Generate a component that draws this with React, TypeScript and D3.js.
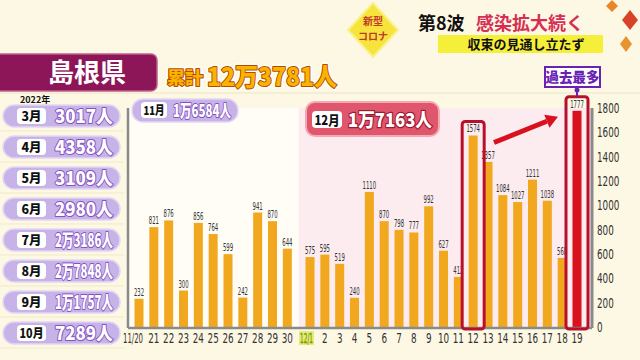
import React, { useLayoutEffect, useRef, useState } from 'react';
import * as d3 from 'd3';

const novDays = ['11/20', '21', '22', '23', '24', '25', '26', '27', '28', '29', '30'];
const novValues = [232, 821, 876, 300, 856, 764, 599, 242, 941, 870, 644];
const decDays = ['12/1', '2', '3', '4', '5', '6', '7', '8', '9', '10', '11', '12', '13', '14', '15', '16', '17', '18', '19'];
const decValues = [575, 595, 519, 240, 1110, 870, 798, 777, 992, 627, 412, 1574, 1357, 1084, 1027, 1211, 1038, 568, 1777];
const monthLabels = ['3月', '4月', '5月', '6月', '7月', '8月', '9月', '10月'];
const monthTotals = ['3017人', '4358人', '3109人', '2980人', '2万3186人', '2万7848人', '1万1757人', '7289人'];
const yTicks = [0, 200, 400, 600, 800, 1000, 1200, 1400, 1600, 1800];
const highlightDays = ['12', '19'];
const recordDay = '19';

const JP = '"Noto Sans CJK JP", "Noto Sans", sans-serif';
const NARROW = '"DejaVu Sans Condensed", "Liberation Sans Narrow", sans-serif';

type Bar = { day: string; value: number; month: 'nov' | 'dec'; pos: number };

const bars: Bar[] = [
  ...novDays.map((d, i) => ({ day: d, value: novValues[i], month: 'nov' as const, pos: i })),
  ...decDays.map((d, i) => ({ day: d, value: decValues[i], month: 'dec' as const, pos: novDays.length + i + 0.53 })),
];

// Text squeezed horizontally (via transform) to a target width.
function FitText(props: any) {
  const { x, y, width, anchor = 'start', children, ...rest } = props;
  const ref = useRef<SVGTextElement>(null);
  const [s, setS] = useState(1);
  useLayoutEffect(() => {
    if (ref.current) {
      const n = ref.current.getComputedTextLength();
      if (n > 0) setS(Math.min(width / n, 1.3));
    }
  }, [width, children]);
  return (
    <g transform={`translate(${x},${y}) scale(${s},1)`}>
      <text ref={ref} x={0} y={0} textAnchor={anchor} {...rest}>{children}</text>
    </g>
  );
}

export default function App() {
  const W = 640, H = 360;
  const x = d3.scaleLinear().domain([0, bars[bars.length - 1].pos]).range([139, 577]);
  const y = d3.scaleLinear().domain([0, 1800]).range([327, 108]);
  const barW = 9;
  const axisL = x(0) - 11;
  const axisR = x(bars[bars.length - 1].pos) + 15;
  const decStart = (x(novDays.length - 1) + x(novDays.length + 0.53)) / 2;

  const decBars = bars.filter(b => b.month === 'dec');
  const hl = decBars.filter(b => highlightDays.includes(b.day));
  const b12 = decBars.find(b => b.day === '12')!;
  const b13 = decBars.find(b => b.day === '13')!;
  const b19 = decBars.find(b => b.day === recordDay)!;

  const ax0 = x(b13.pos) + 6, ay0 = y(b12.value) + 7;
  const ax1 = x(b19.pos) - 19, ay1 = y(b19.value) + 6;
  const ang = Math.atan2(ay1 - ay0, ax1 - ax0);
  const headLen = 12, headW = 7;
  const bx = ax1 - headLen * Math.cos(ang), by = ay1 - headLen * Math.sin(ang);
  const px = -Math.sin(ang), py = Math.cos(ang);
  const head = `${ax1},${ay1} ${bx + px * headW},${by + py * headW} ${bx - px * headW},${by - py * headW}`;

  const rowY = (i: number) => 116 + i * 31;
  const gold = { fontFamily: JP, fontWeight: 900, fill: '#f8b400', strokeLinejoin: 'round', paintOrder: 'stroke' };

  return (
    <svg width={W} height={H} style={{ position: 'absolute', left: 0, top: 0 }} xmlns="http://www.w3.org/2000/svg">
      <rect x={0} y={0} width={W} height={H} fill="#fdf8e3" />
      {/* header */}
      <polygon points="373,3 398,30 373,57 348,30" fill="#f6e43c" stroke="#fbf08a" strokeWidth={2} />
      <text x={373} y={25} textAnchor="middle" fontFamily={JP} fontSize={10} fontWeight={700} fill="#c0392b">新型</text>
      <text x={373} y={39.5} textAnchor="middle" fontFamily={JP} fontSize={10} fontWeight={700} fill="#c0392b">コロナ</text>
      <text x={418} y={30} fontFamily={JP} fontSize={18} fontWeight={700} fill="#111">第8波</text>
      <text x={476} y={30} fontFamily={JP} fontSize={18} fontWeight={700} fill="#d62f55">感染拡大続く</text>
      <rect x={438} y={35} width={165} height={18} fill="#f5ef3a" />
      <text x={526} y={49} textAnchor="middle" fontFamily={JP} fontSize={13} fontWeight={700} fill="#111">収束の見通し立たず</text>
      <polygon points="612,0 618,6 612,12 606,6" fill="#e8862a" />
      <polygon points="630,10 638,20 630,30 622,20" fill="#d9432a" />
      <polygon points="626,36 632,44 626,52 620,44" fill="#e7932f" />

      {/* prefecture box */}
      <rect x={-6} y={54} width={163} height={37} rx={6} fill="#8c1657" stroke="#c0608e" strokeWidth={1.5} />
      <text x={87} y={82} textAnchor="middle" fontFamily={JP} fontSize={26} fontWeight={700} fill="#fff">島根県</text>
      <FitText x={167} y={84} width={36} fontSize={17} {...gold} stroke="#fff" strokeWidth={5}>累計</FitText>
      <FitText x={167} y={84} width={36} fontSize={17} {...gold} stroke="#b84a00" strokeWidth={2}>累計</FitText>
      <FitText x={207} y={86} width={130} fontSize={25} {...gold} stroke="#fff" strokeWidth={5}>12万3781人</FitText>
      <FitText x={207} y={86} width={130} fontSize={25} {...gold} stroke="#b84a00" strokeWidth={2}>12万3781人</FitText>
      <line x1={0} y1={93} x2={640} y2={93} stroke="#ece3c6" strokeWidth={1} />

      {/* left monthly panel */}
      <text x={20} y={103} fontFamily={JP} fontSize={9} fontWeight={700} fill="#111">2022年</text>
      {monthLabels.map((m, i) => (
        <g key={m}>
          <line x1={0} y1={rowY(i) + 15} x2={124} y2={rowY(i) + 15} stroke="#f1e9c8" strokeWidth={1} />
          <rect x={3} y={rowY(i) - 11} width={117} height={22} rx={11} fill="#c7b3e7" stroke="#e2d7f4" strokeWidth={1.5} />
          <rect x={17} y={rowY(i) - 8} width={29} height={16} rx={4} fill="#fff" />
          <FitText x={31.5} y={rowY(i) + 5} width={m.length > 2 ? 24 : 20} anchor="middle" fontFamily={JP} fontSize={12.5} fontWeight={900} fill="#111">{m}</FitText>
          <FitText x={55} y={rowY(i) + 7} width={58} fontFamily={JP} fontSize={18} fontWeight={900} fill="#fff" stroke="#8552c4" strokeWidth={2} paintOrder="stroke" strokeLinejoin="round">{monthTotals[i]}</FitText>
        </g>
      ))}

      {/* plot background */}
      <rect x={axisL} y={108} width={decStart - axisL} height={219} fill="#fffdf6" />
      <rect x={decStart} y={108} width={axisR - decStart} height={219} fill="#fcebef" />

      {/* month totals pills */}
      <rect x={132} y={99} width={106} height={23} rx={11} fill="#c7b3e7" stroke="#e2d7f4" strokeWidth={1.5} />
      <rect x={141} y={102} width={26} height={16} rx={4} fill="#fff" />
      <FitText x={154} y={115} width={21} anchor="middle" fontFamily={JP} fontSize={12} fontWeight={900} fill="#111">11月</FitText>
      <FitText x={173} y={117} width={58} fontFamily={JP} fontSize={17} fontWeight={900} fill="#fff" stroke="#8552c4" strokeWidth={2} paintOrder="stroke" strokeLinejoin="round">1万6584人</FitText>

      <rect x={306} y={102} width={133} height={34} rx={9} fill="#e0566d" stroke="#f3a8b3" strokeWidth={2} />
      <rect x={312} y={111} width={30} height={17} rx={4} fill="#fff" />
      <FitText x={327} y={124.5} width={25} anchor="middle" fontFamily={JP} fontSize={13} fontWeight={900} fill="#111">12月</FitText>
      <FitText x={348} y={127} width={84} fontFamily={JP} fontSize={19} fontWeight={900} fill="#fff" stroke="#9e1a33" strokeWidth={2.5} paintOrder="stroke" strokeLinejoin="round">1万7163人</FitText>

      {/* bars */}
      {bars.map(b => (
        <rect key={b.month + b.day} x={x(b.pos) - barW / 2} y={y(b.value)} width={barW} height={y(0) - y(b.value)}
          fill={b.month === 'dec' && b.day === recordDay ? '#d9101e' : '#f1a81e'} />
      ))}
      {bars.map(b => {
        const s = String(b.value);
        return (
          <FitText key={'l' + b.month + b.day} x={x(b.pos)} y={y(b.value) - 3} width={s.length * 3.4} anchor="middle"
            fontFamily={NARROW} fontSize={10.5} fill="#333">{s}</FitText>
        );
      })}

      {/* axes */}
      <line x1={axisL} y1={108} x2={axisL} y2={328} stroke="#8a8a8a" strokeWidth={2.5} />
      <line x1={axisL} y1={328} x2={axisR} y2={328} stroke="#8a8a8a" strokeWidth={2.5} />
      <line x1={axisR} y1={108} x2={axisR} y2={328} stroke="#8a8a8a" strokeWidth={3} />
      {yTicks.map(t => (
        <FitText key={t} x={axisR + 5} y={y(t) + 5} width={String(t).length * 5.6} fontFamily={NARROW} fontSize={13.5} fill="#333">{t}</FitText>
      ))}

      {/* x labels */}
      {bars.map(b => {
        const isFirst = b.day.includes('/');
        if (b.day === '12/1') {
          return (
            <g key={'x' + b.day}>
              <rect x={x(b.pos) - 11} y={331} width={15} height={14} fill="#e3ec7a" />
              <FitText x={x(b.pos) - 3.5} y={343} width={13} anchor="middle" fontFamily={NARROW} fontSize={14} fill="#8aa400" stroke="#6b7d00" strokeWidth={0.3}>{b.day}</FitText>
            </g>
          );
        }
        return (
          <FitText key={'x' + b.day + b.month} x={isFirst ? x(b.pos) - 6 : x(b.pos)} y={343} anchor="middle" fontFamily={NARROW} fontSize={14.5} fill="#333"
            width={isFirst ? 20 : b.day.length * 5.6}>{b.day}</FitText>
        );
      })}

      {/* highlights */}
      {hl.map(b => (
        <rect key={'h' + b.day} x={x(b.pos) - 11} y={y(b.value) - 14} width={22} height={y(0) - y(b.value) + 16} rx={3}
          fill="none" stroke="#b8102a" strokeWidth={3} />
      ))}
      <line x1={ax0} y1={ay0} x2={bx} y2={by} stroke="#d9101e" strokeWidth={5} />
      <polygon points={head} fill="#d9101e" />

      {/* record label */}
      <line x1={x(b19.pos)} y1={87} x2={x(b19.pos)} y2={y(b19.value) - 14} stroke="#6a22b5" strokeWidth={2} />
      <circle cx={x(b19.pos)} cy={90} r={2.5} fill="#6a22b5" />
      <rect x={x(b19.pos) - 32} y={67} width={55} height={20} fill="#fff" stroke="#6a22b5" strokeWidth={2} />
      <text x={x(b19.pos) - 4.5} y={82} textAnchor="middle" fontFamily={JP} fontSize={13.5} fontWeight={900} fill="#6a22b5">過去最多</text>
    </svg>
  );
}
